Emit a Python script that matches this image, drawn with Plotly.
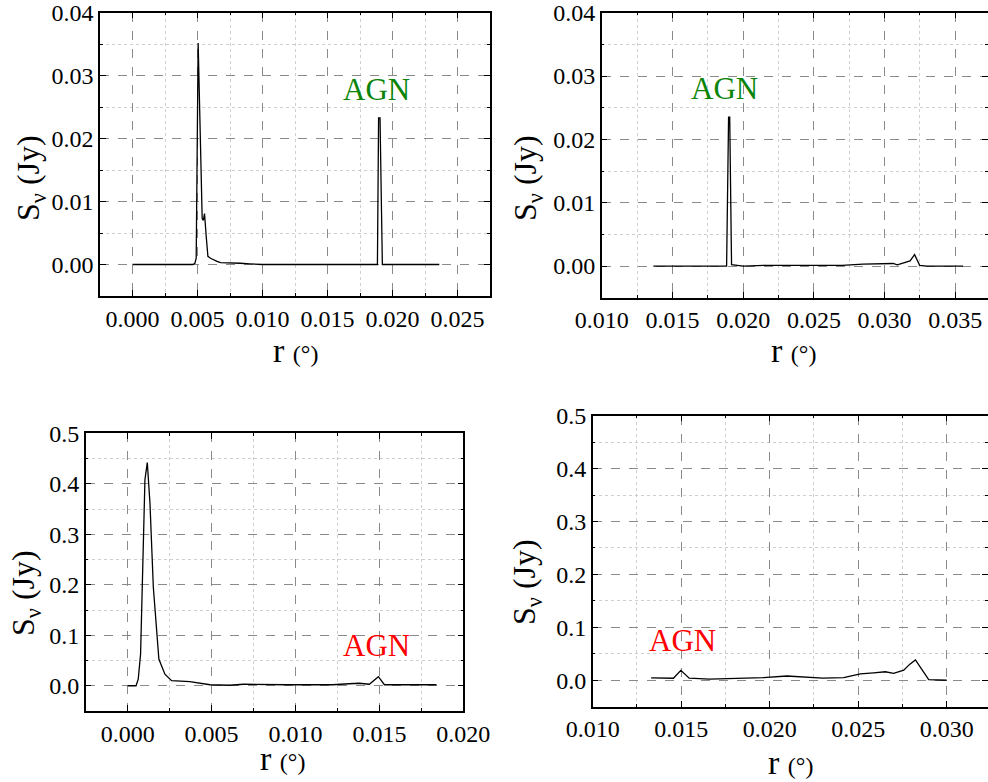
import plotly.graph_objects as go

# ---------------- data ----------------
# Panel 1 (top-left)
r1 = [0.0000, 0.0010, 0.0020, 0.0030, 0.0040, 0.00465, 0.00480, 0.00490, 0.00505,
      0.00520, 0.00536, 0.00545, 0.00554, 0.00567, 0.00580, 0.00600, 0.00616, 0.00650,
      0.00678, 0.00720, 0.00760, 0.00830, 0.00900, 0.01000, 0.01200, 0.01400, 0.01600,
      0.01800, 0.01870, 0.01884, 0.01893, 0.01904, 0.01922, 0.01940, 0.02000, 0.02100,
      0.02200, 0.02300, 0.02360]
s1 = [0.0000, 0.0000, 0.0000, 0.0000, 0.0000, 0.0000, 0.0002, 0.0010, 0.0352,
      0.0200, 0.0073, 0.0070, 0.0081, 0.0045, 0.0013, 0.0010, 0.0008, 0.0005,
      0.0003, 0.0003, 0.0002, 0.0002, 0.0001, 0.0000, 0.0000, 0.0000, 0.0000,
      0.0000, 0.0000, 0.0000, 0.0233, 0.0233, 0.0000, 0.0000, 0.0000, 0.0000,
      0.0000, 0.0000, 0.0000]

# Panel 2 (top-right)
r2 = [0.01365, 0.0150, 0.0165, 0.0180, 0.01870, 0.01883, 0.01897, 0.01905, 0.01918,
      0.0200, 0.0215, 0.0230, 0.02518, 0.0270, 0.02847, 0.02989, 0.0306, 0.0309,
      0.0313, 0.0318, 0.03212, 0.03248, 0.0330, 0.0340, 0.03555]
s2 = [0.0000, 0.0000, 0.0000, 0.0000, 0.0000, 0.0000, 0.0235, 0.0235, 0.0002,
      0.0000, 0.0001, 0.0001, 0.0002, 0.0001, 0.0003, 0.0004, 0.0004, 0.0002,
      0.0005, 0.0008, 0.0018, 0.0001, 0.0000, 0.0000, 0.0000]

# Panel 3 (bottom-left)
r3 = [0.0000, 0.0005, 0.00063, 0.00077, 0.00103, 0.00117, 0.00133, 0.00153, 0.00186,
      0.00222, 0.00262, 0.00371, 0.0049, 0.00608, 0.0069, 0.0080, 0.0095, 0.0110,
      0.0122, 0.0132, 0.0138, 0.0144, 0.01494, 0.0153, 0.0160, 0.0170, 0.0184]
s3 = [0.000, 0.000, 0.013, 0.063, 0.408, 0.442, 0.361, 0.195, 0.053,
      0.023, 0.010, 0.008, 0.002, 0.001, 0.003, 0.002, 0.002, 0.002,
      0.002, 0.004, 0.005, 0.003, 0.018, 0.002, 0.002, 0.002, 0.002]

# Panel 4 (bottom-right)
r4 = [0.0133, 0.01456, 0.01498, 0.01545, 0.0166, 0.01814, 0.01965, 0.02097, 0.02191,
      0.0230, 0.02418, 0.02512, 0.02587, 0.02653, 0.0270, 0.02757, 0.02790, 0.02823,
      0.0286, 0.02898, 0.0300]
s4 = [0.0045, 0.0038, 0.0188, 0.0040, 0.0020, 0.0030, 0.0050, 0.0080, 0.0060,
      0.0040, 0.0050, 0.0120, 0.0140, 0.0160, 0.0130, 0.0190, 0.0300, 0.0385,
      0.0200, 0.0010, 0.0000]

x_ranges = [[-0.0025, 0.0275], [0.010, 0.03731], [-0.0025, 0.020], [0.010, 0.03233]]
y_ranges = [[-0.005, 0.04], [-0.005, 0.04], [-0.05, 0.5], [-0.05, 0.5]]
x_dticks = [0.005, 0.005, 0.005, 0.005]
y_dticks = [0.01, 0.01, 0.1, 0.1]
x_formats = [".3f", ".3f", ".3f", ".3f"]
y_formats = [".2f", ".2f", ".1f", ".1f"]

label_text = "AGN"
label_pos = [(0.01876, 0.0278), (0.01871, 0.0281), (0.01482, 0.0795), (0.01509, 0.075)]
label_colors = ["#0a850a", "#0a850a", "#ff0000", "#ff0000"]

# ---------------- layout (pixel boxes in the 988x782 window) ----------------
W, H = 988, 782
boxes = [(100, 490, 12.7, 296.0), (601.7, 988, 12.7, 297.7),
         (85.7, 463.3, 433.3, 711.0), (592.7, 988, 415.7, 706.7)]
ytitle_pos = [(30, 178), (527, 178), (25, 593), (526, 582)]
xtitle_pos = [(295, 350), (793, 350), (282, 758), (790, 762)]

FONT = "Liberation Serif, Times New Roman, serif"


def px(v):
    return v / W


def py(v):
    return 1 - v / H


fig = go.Figure()
series = [(r1, s1), (r2, s2), (r3, s3), (r4, s4)]
for i, (rx, sy) in enumerate(series):
    n = "" if i == 0 else str(i + 1)
    fig.add_trace(go.Scatter(x=rx, y=sy, mode="lines",
                             line=dict(color="black", width=1.3),
                             xaxis="x" + n, yaxis="y" + n, showlegend=False,
                             hoverinfo="skip"))
    x0, x1, y0, y1 = boxes[i]
    common = dict(showline=True, linecolor="black", linewidth=1.5, mirror="ticks",
                  ticks="inside", ticklen=6, tickwidth=1.2, tickcolor="black",
                  showgrid=True, gridcolor="#8a8a8a", griddash="dash", gridwidth=1,
                  zeroline=False, automargin=False, ticklabeloverflow="allow",
                  tickfont=dict(family=FONT, size=24, color="black"))
    fig.update_layout(**{
        "xaxis" + n: dict(domain=[max(0, px(x0)), min(1, px(x1))], range=x_ranges[i],
                          dtick=x_dticks[i], tick0=0, tickformat=x_formats[i], anchor="y" + n,
                          minor=dict(dtick=x_dticks[i] / 2, tick0=0, ticks="inside",
                                     ticklen=3, tickcolor="black", showgrid=True,
                                     gridcolor="#cfcfcf", griddash="dot", gridwidth=1),
                          **common),
        "yaxis" + n: dict(domain=[py(y1), min(1, py(y0))], range=y_ranges[i],
                          dtick=y_dticks[i], tick0=0, tickformat=y_formats[i], anchor="x" + n,
                          minor=dict(dtick=y_dticks[i] / 2, tick0=0, ticks="inside",
                                     ticklen=3, tickcolor="black", showgrid=True,
                                     gridcolor="#cfcfcf", griddash="dot", gridwidth=1),
                          **common),
    })
    lx, ly = label_pos[i]
    fig.add_annotation(x=lx, y=ly, xref="x" + n, yref="y" + n, text=label_text,
                       showarrow=False, xanchor="center", yanchor="middle",
                       font=dict(family=FONT, size=31, color=label_colors[i]))
    tx, ty = ytitle_pos[i]
    fig.add_annotation(x=px(tx), y=py(ty), xref="paper", yref="paper",
                       text="S<sub>ν</sub> (Jy)", textangle=-90, showarrow=False,
                       xanchor="center", yanchor="middle",
                       font=dict(family=FONT, size=32, color="black"))
    ax, ay = xtitle_pos[i]
    fig.add_annotation(x=px(ax), y=py(ay), xref="paper", yref="paper",
                       text="r <span style='font-size:24px'>(°)</span>", showarrow=False,
                       xanchor="center", yanchor="middle",
                       font=dict(family=FONT, size=34, color="black"))

fig.update_layout(width=W, height=H, margin=dict(l=0, r=0, t=0, b=0),
                  font=dict(family=FONT, color="black"),
                  paper_bgcolor="white", plot_bgcolor="white")
fig.write_html("out.html", config={"displayModeBar": False},
               post_script="document.body.style.margin='0';document.body.style.overflow='hidden';")
